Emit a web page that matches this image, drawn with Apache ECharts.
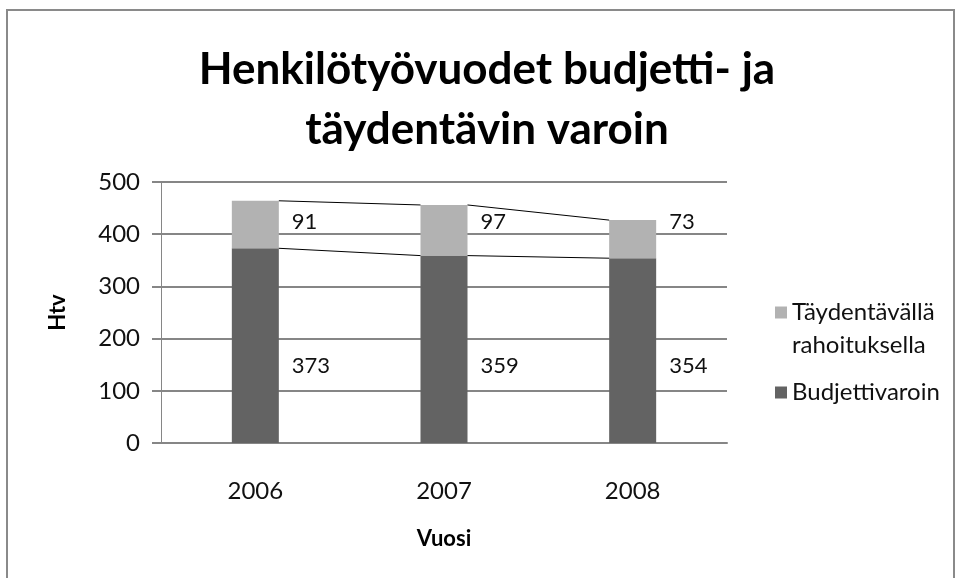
<!DOCTYPE html>
<html><head><meta charset="utf-8">
<script src="https://cdn.jsdelivr.net/npm/echarts@6/dist/echarts.min.js"></script>
<style>html,body{margin:0;padding:0;background:#fff}#c{width:960px;height:578px}</style>
</head><body><div id="c"></div>
<script>
var categories = ['2006', '2007', '2008'];
var budjettivaroin = [373, 359, 354];
var taydentavalla = [91, 97, 73];
var seriesNames = ['Budjettivaroin', 'Täydentävällä rahoituksella'];
var yTicks = [0, 100, 200, 300, 400, 500];

var tops1 = budjettivaroin;
var tops2 = budjettivaroin.map(function (v, i) { return v + taydentavalla[i]; });
var BAR_W = 47;
var FONT = 'Lato, "Open Sans", sans-serif';

function connectorData(tops) {
  var d = [];
  for (var i = 0; i < tops.length - 1; i++) d.push([i, tops[i], tops[i + 1]]);
  return d;
}
function connectorSeries(tops) {
  return {
    type: 'custom', silent: true, z: 5,
    renderItem: function (params, api) {
      var i = api.value(0);
      var p1 = api.coord([i, api.value(1)]);
      var p2 = api.coord([i + 1, api.value(2)]);
      return { type: 'line', shape: { x1: p1[0] + BAR_W / 2, y1: p1[1], x2: p2[0] - BAR_W / 2, y2: p2[1] },
        style: { stroke: '#000', lineWidth: 1 } };
    },
    encode: { x: 0, y: 1 },
    data: connectorData(tops)
  };
}
function labelSeries(values, level) {
  return {
    type: 'custom', silent: true, z: 6,
    renderItem: function (params, api) {
      var i = api.value(0);
      var p = api.coord([i, level]);
      return { type: 'text', x: p[0] + BAR_W / 2 + 13, y: p[1],
        style: { text: String(api.value(1)), fill: '#111', font: '22px ' + FONT, verticalAlign: 'middle', align: 'left' } };
    },
    encode: { x: 0, y: 1 },
    data: values.map(function (v, i) { return [i, v]; })
  };
}

var chart = echarts.init(document.getElementById('c'));
chart.setOption({
  animation: false,
  backgroundColor: '#fff',
  title: {
    text: 'Henkilötyövuodet budjetti- ja\ntäydentävin varoin',
    left: 482, top: 35, textAlign: 'center',
    textStyle: { fontFamily: '"Liberation Sans Narrow", Lato, sans-serif', fontWeight: 'bold', fontSize: 44, lineHeight: 60, color: '#000' }
  },
  graphic: [{ type: 'rect', shape: { x: 7, y: 10, width: 947, height: 580 }, style: { fill: 'none', stroke: '#8a8a8a', lineWidth: 2 }, silent: true }],
  legend: {
    orient: 'vertical', left: 770, top: 258,
    data: [seriesNames[1], seriesNames[0]],
    icon: 'rect', itemWidth: 12, itemHeight: 12, itemGap: 14,
    formatter: function (n) { return n.indexOf(' ') >= 0 ? ' \n' + n.replace(' ', '\n') : n; },
    textStyle: { fontFamily: FONT, fontSize: 24, color: '#111', lineHeight: 33 }
  },
  grid: { left: 161, right: 233, top: 182, bottom: 135 },
  xAxis: {
    type: 'category', data: categories,
    name: 'Vuosi', nameLocation: 'middle', nameGap: 85,
    nameTextStyle: { fontFamily: FONT, fontWeight: 'bold', fontSize: 22, color: '#000' },
    axisLine: { lineStyle: { color: '#868686', width: 2 } },
    axisTick: { show: false },
    axisLabel: { margin: 36, fontFamily: FONT, fontSize: 24, color: '#111' }
  },
  yAxis: {
    type: 'value', min: 0, max: 500, interval: 100,
    name: 'Htv', nameLocation: 'middle', nameGap: 92, nameRotate: 90,
    nameTextStyle: { fontFamily: FONT, fontWeight: 'bold', fontSize: 22, color: '#000' },
    axisLine: { show: true, lineStyle: { color: '#868686', width: 1 } },
    axisTick: { show: true, length: 9, lineStyle: { color: '#868686', width: 2 } },
    splitLine: { lineStyle: { color: '#868686', width: 2 } },
    axisLabel: { margin: 21, fontFamily: FONT, fontSize: 24, color: '#111',
      formatter: function (v) { return yTicks.indexOf(v) >= 0 ? String(v) : ''; } }
  },
  series: [
    { name: seriesNames[0], type: 'bar', stack: 's', barWidth: BAR_W, data: budjettivaroin, itemStyle: { color: '#636363' } },
    { name: seriesNames[1], type: 'bar', stack: 's', barWidth: BAR_W, data: taydentavalla, itemStyle: { color: '#b2b2b2' } },
    connectorSeries(tops1),
    connectorSeries(tops2),
    labelSeries(budjettivaroin, 148),
    labelSeries(taydentavalla, 424)
  ]
});
</script></body></html>
